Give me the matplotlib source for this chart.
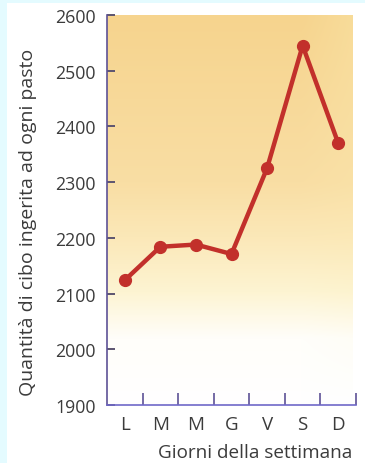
import numpy as np
import matplotlib
matplotlib.use("Agg")
import matplotlib.pyplot as plt
from matplotlib.colors import LinearSegmentedColormap

# Food intake per meal over the week
giorni = ["L", "M", "M", "G", "V", "S", "D"]
quantita = [2124, 2184, 2188, 2171, 2325, 2545, 2370]
y_ticks = [1900, 2000, 2100, 2200, 2300, 2400, 2500, 2600]

plt.rcParams["font.family"] = ["Open Sans", "DejaVu Sans"]
text_col = "#3b3b3b"
spine_col = "#5e5296"
line_col = "#c2302b"

fig = plt.figure(figsize=(3.65, 4.64), dpi=100)
fig.patch.set_facecolor("white")

# pale cyan frame on the left and top edges
fig.patches.append(plt.Rectangle((0, 0), 7 / 365, 1, transform=fig.transFigure,
                                 facecolor="#e4fbff", edgecolor="none", zorder=0))
fig.patches.append(plt.Rectangle((0, 1 - 4 / 464), 1, 4 / 464, transform=fig.transFigure,
                                 facecolor="#e4fbff", edgecolor="none", zorder=0))

ax = fig.add_axes([107 / 365, 1 - 406 / 464, 249 / 365, 390 / 464])
ax.set_facecolor("white")

x = np.arange(len(giorni))
ax.set_xlim(-0.5, len(giorni) - 0.5)
ax.set_ylim(y_ticks[0], y_ticks[-1])

# warm vertical gradient behind the plot area (stops given as fraction of height)
cmap = LinearSegmentedColormap.from_list(
    "warm", [(0.0, "#ffffff"), (0.17, "#fffefa"), (0.29, "#fdf4d2"),
             (0.43, "#fbe8b8"), (0.57, "#f9dea4"), (1.0, "#f6d48e")])
grad = np.linspace(0, 1, 256).reshape(-1, 1)
horiz = np.linspace(0, 1, 64).reshape(1, -1)
img = cmap(grad * np.ones_like(horiz))
# a touch lighter and yellower towards the right edge
lift = (np.clip((horiz - 0.8) / 0.2, 0, 1) * 0.3 * grad)[..., None]
img[..., :3] = img[..., :3] * (1 - lift) + np.array([0.99, 0.93, 0.70]) * lift
ax.imshow(img, origin="lower", aspect="auto", interpolation="bilinear",
          extent=(-0.5, len(giorni) - 0.6, y_ticks[0], y_ticks[-1]), zorder=0)

ax.plot(x, quantita, color=line_col, lw=3.2, marker="o", markersize=8.5,
        solid_capstyle="round", zorder=3)

for side in ["top", "right"]:
    ax.spines[side].set_visible(False)
ax.spines["left"].set_color(spine_col)
ax.spines["bottom"].set_color("#6f68c8")
ax.spines["left"].set_linewidth(1.2)
ax.spines["bottom"].set_linewidth(1.2)

ax.set_yticks(y_ticks)
ax.set_yticklabels([str(v) for v in y_ticks])
ax.tick_params(axis="y", direction="in", length=6, width=1.4, color="#5c5470",
               labelsize=12.8, labelcolor=text_col, pad=8)

# tick marks between days, labels centred on each day
ax.set_xticks(np.arange(len(giorni)) + 0.5)
ax.set_xticklabels([])
ax.set_xticks(x, minor=True)
ax.set_xticklabels(giorni, minor=True)
ax.tick_params(axis="x", which="major", direction="in", length=9, width=1.2,
               color="#5e5296")
ax.tick_params(axis="x", which="minor", length=0, labelsize=13.5,
               labelcolor=text_col, pad=7)

ax.set_ylabel("Quantità di cibo ingerita ad ogni pasto", fontsize=14,
              color=text_col)
ax.yaxis.set_label_coords(-0.28, 0.47)
ax.set_xlabel("Giorni della settimana", fontsize=13.6, color=text_col)
ax.xaxis.set_label_coords(0.595, -0.098)

fig.savefig("out.png", dpi=100, facecolor=fig.get_facecolor())
